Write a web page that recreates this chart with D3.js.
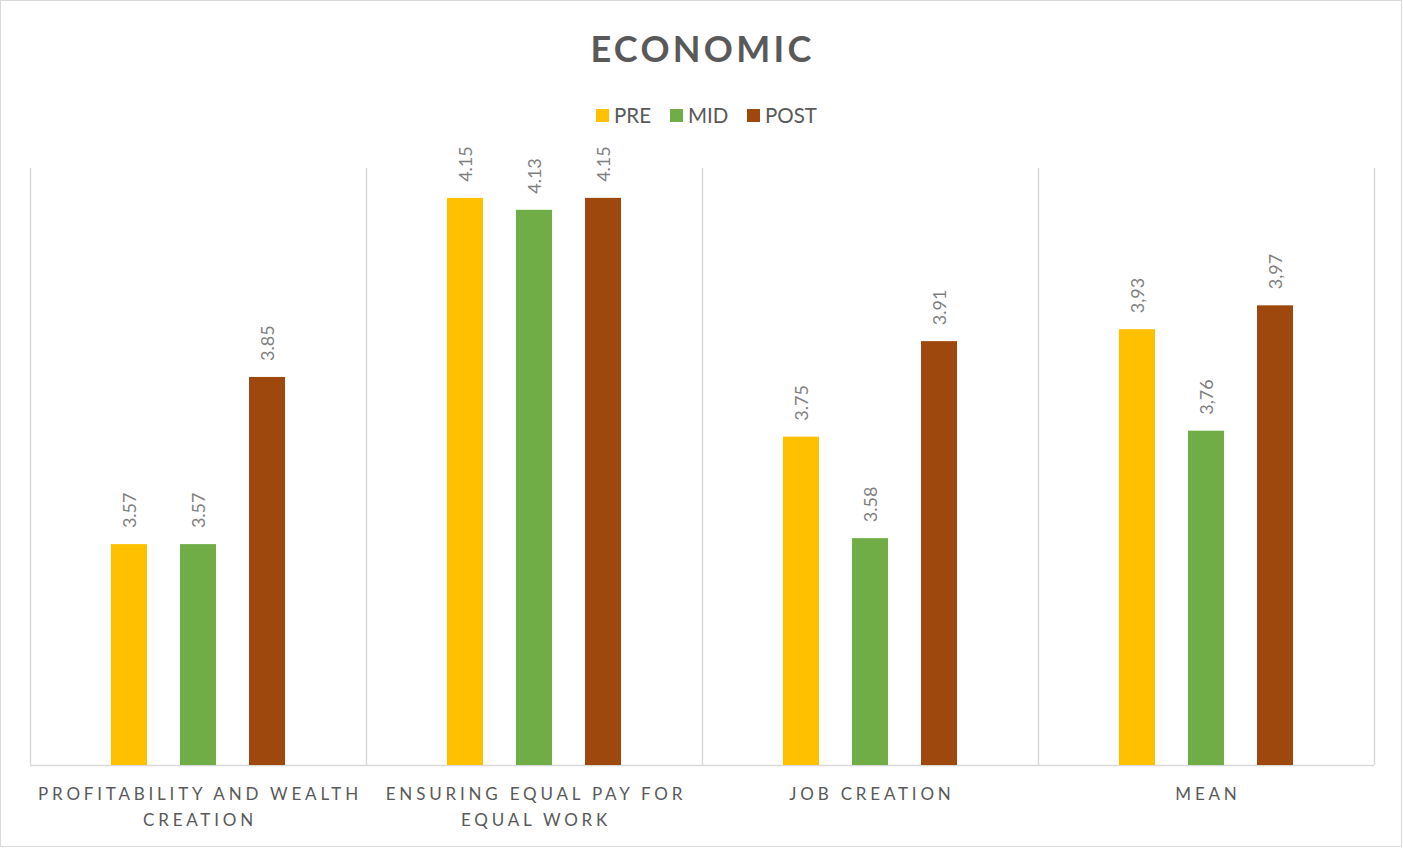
<!DOCTYPE html>
<html>
<head>
<meta charset="utf-8">
<script src="https://cdn.jsdelivr.net/npm/d3@7"></script>
<style>
  html, body { margin: 0; padding: 0; background: #fff; }
  svg { display: block; font-family: Lato, "Open Sans", sans-serif; }
</style>
</head>
<body>
<svg id="chart" width="1403" height="848"></svg>
<script>
// Survey scores per theme, measured at three points in time
const categories = [
  ["PROFITABILITY AND WEALTH", "CREATION"],
  ["ENSURING EQUAL PAY FOR", "EQUAL WORK"],
  ["JOB CREATION"],
  ["MEAN"]
];
const seriesNames = ["PRE", "MID", "POST"];
const seriesColors = ["#FFC000", "#70AD47", "#9E480E"];
const preValues  = [3.57, 4.15, 3.75, 3.93];
const midValues  = [3.57, 4.13, 3.58, 3.76];
const postValues = [3.85, 4.15, 3.91, 3.97];
// Printed value labels (the mean row uses a decimal comma)
const preLabels  = ["3.57", "4.15", "3.75", "3,93"];
const midLabels  = ["3.57", "4.13", "3.58", "3,76"];
const postLabels = ["3.85", "4.15", "3.91", "3,97"];
const yDomain = [3.2, 4.2];

const series = [preValues, midValues, postValues];
const labels = [preLabels, midLabels, postLabels];

const W = 1403, H = 848;
const plot = { left: 30, right: 1374, top: 168, bottom: 765 };

const svg = d3.select("#chart");

// outer frame
svg.append("rect")
  .attr("x", 0.5).attr("y", 0.5)
  .attr("width", W - 2).attr("height", H - 2)
  .attr("fill", "#fff").attr("stroke", "#d9d9d9");

const x0 = d3.scaleBand()
  .domain(d3.range(categories.length))
  .range([plot.left, plot.right])
  .paddingInner(0).paddingOuter(0);

const x1 = d3.scaleBand()
  .domain(d3.range(seriesNames.length))
  .range([81, x0.bandwidth() - 81])
  .paddingInner(33 / 69)
  .paddingOuter(0);

const y = d3.scaleLinear().domain(yDomain).range([plot.bottom, plot.top]);

// vertical separators between categories
const bounds = d3.range(categories.length + 1).map(i =>
  i < categories.length ? x0(i) : x0(categories.length - 1) + x0.bandwidth());
svg.append("g").selectAll("line").data(bounds).join("line")
  .attr("x1", d => Math.round(d) + 0.5).attr("x2", d => Math.round(d) + 0.5)
  .attr("y1", plot.top).attr("y2", plot.bottom)
  .attr("stroke", "#d9d9d9").attr("stroke-width", 1.5);

// baseline
svg.append("line")
  .attr("x1", plot.left).attr("x2", plot.right)
  .attr("y1", plot.bottom + 0.5).attr("y2", plot.bottom + 0.5)
  .attr("stroke", "#d9d9d9").attr("stroke-width", 1.5);

// bars
const groups = svg.append("g").selectAll("g")
  .data(categories.map((c, i) => i)).join("g")
  .attr("transform", i => `translate(${x0(i)},0)`);

groups.selectAll("rect")
  .data(i => series.map((s, k) => ({ k, v: s[i], label: labels[k][i] })))
  .join("rect")
  .attr("x", d => x1(d.k))
  .attr("width", x1.bandwidth())
  .attr("y", d => y(d.v))
  .attr("height", d => y(yDomain[0]) - y(d.v))
  .attr("fill", d => seriesColors[d.k]);

// rotated value labels
groups.selectAll("text.val")
  .data(i => series.map((s, k) => ({ k, v: s[i], label: labels[k][i] })))
  .join("text")
  .attr("class", "val")
  .attr("transform", d => `translate(${x1(d.k) + x1.bandwidth() / 2 + 6.5},${y(d.v) - 16}) rotate(-90)`)
  .attr("text-anchor", "start")
  .attr("font-size", 18)
  .attr("fill", "#7f7f7f")
  .text(d => d.label);

// category labels
const cat = svg.append("g").selectAll("text")
  .data(categories.map((c, i) => ({ c, i }))).join("text")
  .attr("text-anchor", "middle")
  .attr("font-size", 17)
  .attr("letter-spacing", "3.8px")
  .attr("fill", "#595959");
cat.each(function (d) {
  const t = d3.select(this);
  d.c.forEach((line, j) => {
    t.append("tspan")
      .attr("x", x0(d.i) + x0.bandwidth() / 2 + 2)
      .attr("y", 800 + j * 26)
      .text(line);
  });
});

// title
svg.append("text")
  .attr("x", W / 2 + 1).attr("y", 62)
  .attr("text-anchor", "middle")
  .attr("font-size", 36).attr("font-weight", "bold")
  .attr("letter-spacing", "3.3px")
  .attr("fill", "#595959")
  .text("ECONOMIC");

// legend
const legendX = [596, 670, 747];
const leg = svg.append("g").selectAll("g")
  .data(seriesNames.map((n, k) => ({ n, k }))).join("g")
  .attr("transform", d => `translate(${legendX[d.k]},109)`);
leg.append("rect")
  .attr("width", 13).attr("height", 13)
  .attr("fill", d => seriesColors[d.k]);
leg.append("text")
  .attr("x", 18).attr("y", 13.5)
  .attr("font-size", 20.5)
  .attr("fill", "#595959")
  .text(d => d.n);
</script>
</body>
</html>
